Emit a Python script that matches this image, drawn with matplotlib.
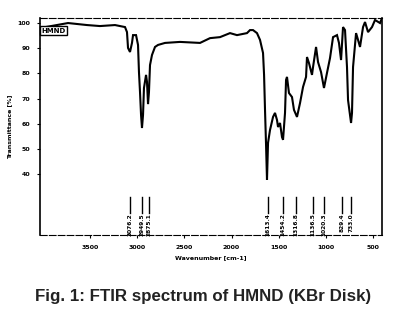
import matplotlib
matplotlib.use("Agg")
import matplotlib.pyplot as plt

# Spectrum (wavenumber cm-1, transmittance %)
wavenumber = [4030, 3733, 3532, 3394, 3235, 3129, 3108, 3097, 3076, 3055, 3044, 3012,
              2991, 2981, 2970, 2959, 2949, 2938, 2928, 2906, 2896, 2885, 2875, 2864,
              2843, 2811, 2779, 2705, 2546, 2334, 2228, 2122, 2016, 1942, 1836, 1804,
              1772, 1730, 1698, 1666, 1655, 1645, 1634, 1624, 1613, 1592, 1560, 1539,
              1518, 1507, 1486, 1465, 1454, 1433, 1422, 1412, 1391, 1359, 1338, 1306,
              1274, 1242, 1210, 1200, 1179, 1147, 1136, 1104, 1083, 1051, 1020, 988,
              956, 924, 882, 861, 839, 818, 797, 776, 765, 733, 723, 712, 680, 659,
              638, 606, 585, 553, 511, 479, 426, 405]
transmittance = [98.0, 100.0, 99.2, 98.8, 99.2, 98.4, 96.4, 90.1, 88.5, 92.1, 95.2, 95.2,
                 91.3, 80.5, 72.6, 63.5, 58.3, 63.5, 74.2, 79.4, 76.6, 67.8, 72.6, 83.3,
                 87.3, 90.5, 91.3, 92.1, 92.5, 92.1, 94.0, 94.4, 96.0, 95.2, 96.0, 97.2,
                 97.2, 96.0, 93.3, 88.1, 79.4, 65.5, 51.6, 37.7, 52.4, 57.5, 62.7, 64.3,
                 61.5, 58.7, 60.3, 54.7, 53.6, 64.3, 77.4, 78.6, 72.2, 70.6, 65.5, 62.7,
                 68.2, 74.6, 78.6, 86.5, 84.1, 79.4, 82.5, 90.5, 84.5, 80.5, 74.2, 80.2,
                 86.1, 94.4, 95.2, 92.1, 85.3, 98.4, 97.2, 82.5, 69.4, 60.3, 64.3, 82.5,
                 96.0, 93.3, 90.5, 98.4, 100.4, 96.4, 98.4, 101.2, 100.0, 102.0]

# Peak markers
peak_positions = [3076.2, 2949.5, 2875.1, 1613.4, 1454.2, 1316.8, 1136.5, 1020.3, 829.4, 733.0]
peak_labels = ["3076.2", "2949.5", "2875.1", "1613.4", "1454.2", "1316.8",
               "1136.5", "1020.3", "829.4", "733.0"]

x_ticks = [3500, 3000, 2500, 2000, 1500, 1000, 500]
y_ticks = [100, 90, 80, 70, 60, 50, 40]

caption = "Fig. 1: FTIR spectrum of HMND (KBr Disk)"

fig = plt.figure(figsize=(4.05, 3.16), dpi=100)
fig.patch.set_facecolor("white")
ax = fig.add_axes([40 / 405, 1 - 235 / 316, 342 / 405, 217 / 316])

ax.plot(wavenumber, transmittance, color="black", lw=1.5, solid_joinstyle="miter")

ax.set_xlim(4030, 405)
ax.set_ylim(15.8, 102.0)

for pos, lab in zip(peak_positions, peak_labels):
    ax.plot([pos, pos], [24.6, 30.9], color="black", lw=1.0)
    ax.text(pos, 24.3, lab, rotation=90, ha="center", va="top",
            fontsize=4.2, fontweight="bold", family="DejaVu Sans")

ax.set_xticks(x_ticks)
ax.set_xticklabels([str(v) for v in x_ticks], fontsize=4.5, fontweight="bold")
ax.set_yticks(y_ticks)
ax.set_yticklabels([str(v) for v in y_ticks], fontsize=4.5, fontweight="bold")
ax.tick_params(axis="both", direction="out", length=2, width=0.8, pad=5)

ax.set_xlabel("Wavenumber [cm-1]", fontsize=4.5, fontweight="bold", labelpad=4)
ax.set_ylabel("Transmittance [%]", fontsize=4.5, fontweight="bold", labelpad=4)

for side in ["top", "bottom"]:
    ax.spines[side].set_linestyle((0, (6, 2)))
    ax.spines[side].set_linewidth(0.8)
ax.spines["left"].set_linewidth(1.2)
ax.spines["right"].set_linewidth(1.2)

ax.text(0.005, 0.955, "HMND", transform=ax.transAxes, fontsize=5, fontweight="bold",
        va="top", ha="left",
        bbox=dict(boxstyle="square,pad=0.2", fc="white", ec="black", lw=1.0))

fig.text(203 / 405, 1 - 296 / 316, caption, ha="center", va="center",
         fontsize=12.2, fontweight="bold", family="Liberation Sans", color="#222222")

fig.savefig("out.png", dpi=100)
